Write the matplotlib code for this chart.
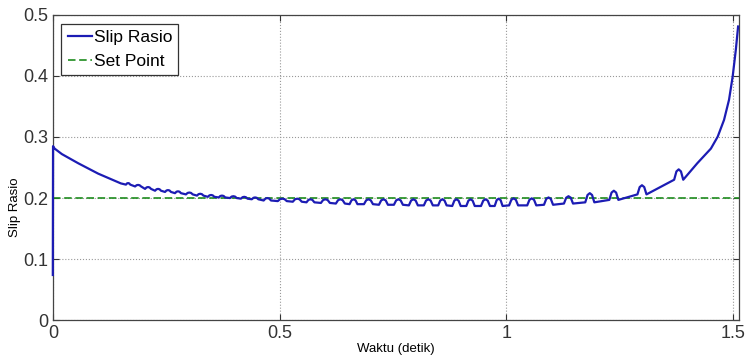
import numpy as np
import matplotlib.pyplot as plt

plt.rcParams['font.family'] = ['Liberation Sans', 'DejaVu Sans']

# start of the response (before the ripples)
start_t = [0.0, 0.0005, 0.004, 0.020, 0.056, 0.100, 0.131, 0.150]
start_y = [0.074, 0.285, 0.281, 0.272, 0.257, 0.240, 0.230, 0.224]

# ripples: peak time, local base level, peak level
bump_t = [0.166, 0.188, 0.210, 0.232, 0.254, 0.276, 0.301, 0.325, 0.349, 0.373,
          0.398, 0.422, 0.446, 0.473, 0.506, 0.539, 0.568, 0.601, 0.634, 0.663,
          0.696, 0.729, 0.762, 0.795, 0.828, 0.859, 0.890, 0.921, 0.954, 0.983,
          1.016, 1.056, 1.093, 1.137, 1.184, 1.237, 1.299, 1.380]
bump_base = [0.222, 0.219, 0.215, 0.212, 0.210, 0.208, 0.206, 0.204, 0.202, 0.201,
             0.200, 0.199, 0.198, 0.196, 0.195, 0.194, 0.193, 0.192, 0.191, 0.190,
             0.190, 0.189, 0.189, 0.188, 0.188, 0.188, 0.187, 0.187, 0.187, 0.187,
             0.188, 0.188, 0.189, 0.191, 0.193, 0.197, 0.206, 0.230]
bump_top = [0.2245, 0.2215, 0.218, 0.215, 0.213, 0.211, 0.209, 0.207, 0.205, 0.204,
            0.203, 0.202, 0.201, 0.200, 0.199, 0.199, 0.198, 0.198, 0.198, 0.198,
            0.198, 0.198, 0.198, 0.198, 0.198, 0.198, 0.198, 0.198, 0.198, 0.199,
            0.1995, 0.1995, 0.201, 0.203, 0.208, 0.212, 0.221, 0.247]

# final divergence
end_t = [1.421, 1.451, 1.466, 1.480, 1.491, 1.499, 1.506, 1.511]
end_y = [0.257, 0.281, 0.3005, 0.328, 0.361, 0.399, 0.443, 0.481]

set_point = 0.2

# build the polyline: each ripple drawn as a small hump on its base
gaps = np.diff([start_t[-1]] + bump_t)
t_line = list(start_t)
y_line = list(start_y)
for t, b, p, g in zip(bump_t, bump_base, bump_top, gaps):
    w = min(0.3 * g, 0.010)
    t_line += [t - w, t - 0.5 * w, t, t + 0.5 * w, t + w]
    y_line += [b, b + 0.8 * (p - b), p, b + 0.8 * (p - b), b]
t_line += end_t
y_line += end_y

fig = plt.figure(figsize=(7.47, 3.63), dpi=100)
ax = fig.add_axes([0.0707, 0.118, 0.918, 0.841])

ax.plot(t_line, y_line, color='#1c1cb4', lw=1.6, label='Slip Rasio',
        zorder=3, clip_on=False)
ax.plot([0, 1.512], [set_point, set_point], color='#1e8c1e', lw=1.2,
        ls=(0, (4.5, 2.2)), label='Set Point', zorder=2.8)

ax.set_xlim(0, 1.512)
ax.set_ylim(0, 0.5)
ax.set_xticks([0, 0.5, 1, 1.5])
ax.set_xticklabels(['0', '0.5', '1', '1.5'])
ax.set_yticks([0, 0.1, 0.2, 0.3, 0.4, 0.5])
ax.set_yticklabels(['0', '0.1', '0.2', '0.3', '0.4', '0.5'])
ax.tick_params(direction='in', top=True, right=True, labelsize=13,
               colors='#333333', length=4)
for s in ax.spines.values():
    s.set_color('#444444')
    s.set_linewidth(0.9)
ax.grid(True, ls=':', color='#999999', lw=0.8)

ax.set_xlabel('Waktu (detik)', fontsize=9.5, labelpad=1)
ax.set_ylabel('Slip Rasio', fontsize=9.5, labelpad=2)
ax.yaxis.set_label_coords(-0.046, 0.37)

leg = ax.legend(loc='upper left', fontsize=12.5, handlelength=1.4,
                handletextpad=0.1, borderpad=0.35, labelspacing=0.5,
                fancybox=False, framealpha=1, borderaxespad=0.5)
leg.get_frame().set_edgecolor('#333333')
leg.get_frame().set_linewidth(0.9)
leg.set_zorder(5)

fig.savefig('out.png', dpi=100)
